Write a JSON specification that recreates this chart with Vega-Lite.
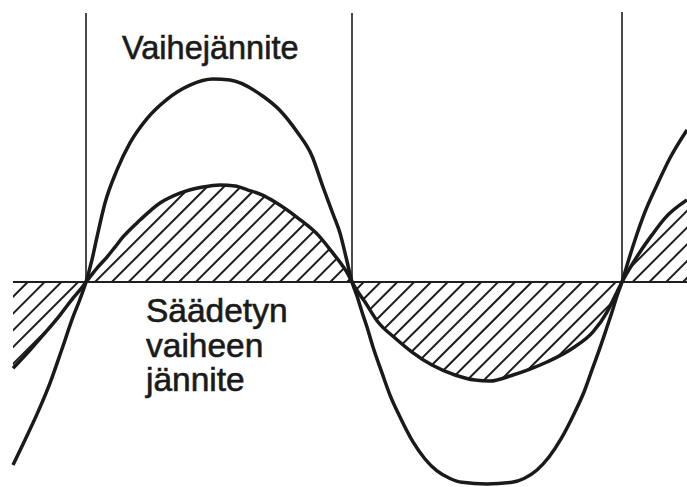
{
  "$schema": "https://vega.github.io/schema/vega-lite/v6.json",
  "width": 687,
  "height": 487,
  "autosize": {"type": "fit", "contains": "padding"},
  "padding": 0,
  "background": "white",
  "config": {"view": {"stroke": null}},
  "datasets": {
    "curves": [
      {"s": "big", "x": -49.03, "v": -0.901}, {"s": "big", "x": -40.97, "v": -0.778}, {"s": "big", "x": -32.24, "v": -0.64}, {"s": "big", "x": -24.18, "v": -0.498}, {"s": "big", "x": -16.12, "v": -0.33}, {"s": "big", "x": -8.73, "v": -0.172}, {"s": "big", "x": -4.03, "v": -0.085}, {"s": "big", "x": 0, "v": 0},
      {"s": "big", "x": 4.03, "v": 0.11}, {"s": "big", "x": 7.39, "v": 0.222}, {"s": "big", "x": 12.76, "v": 0.389}, {"s": "big", "x": 20.82, "v": 0.552}, {"s": "big", "x": 29.55, "v": 0.685}, {"s": "big", "x": 40.97, "v": 0.805}, {"s": "big", "x": 54.4, "v": 0.9}, {"s": "big", "x": 69.85, "v": 0.97}, {"s": "big", "x": 85.3, "v": 1.0}, {"s": "big", "x": 96.72, "v": 0.995}, {"s": "big", "x": 118.88, "v": 0.915}, {"s": "big", "x": 130.3, "v": 0.845}, {"s": "big", "x": 141.72, "v": 0.74}, {"s": "big", "x": 151.79, "v": 0.621}, {"s": "big", "x": 159.18, "v": 0.468}, {"s": "big", "x": 165.9, "v": 0.335}, {"s": "big", "x": 170.6, "v": 0.241}, {"s": "big", "x": 174.63, "v": 0.123}, {"s": "big", "x": 178.66, "v": 0},
      {"s": "big", "x": 182.01, "v": -0.069}, {"s": "big", "x": 185.37, "v": -0.148}, {"s": "big", "x": 188.73, "v": -0.222}, {"s": "big", "x": 192.76, "v": -0.32}, {"s": "big", "x": 198.81, "v": -0.448}, {"s": "big", "x": 204.18, "v": -0.557}, {"s": "big", "x": 210.9, "v": -0.665}, {"s": "big", "x": 219.63, "v": -0.788}, {"s": "big", "x": 227.69, "v": -0.872}, {"s": "big", "x": 235.75, "v": -0.931}, {"s": "big", "x": 244.48, "v": -0.968}, {"s": "big", "x": 252.54, "v": -0.987}, {"s": "big", "x": 269.33, "v": -0.995}, {"s": "big", "x": 286.12, "v": -0.987}, {"s": "big", "x": 294.18, "v": -0.968}, {"s": "big", "x": 302.91, "v": -0.926}, {"s": "big", "x": 310.97, "v": -0.862}, {"s": "big", "x": 319.03, "v": -0.773}, {"s": "big", "x": 327.76, "v": -0.65}, {"s": "big", "x": 334.48, "v": -0.542}, {"s": "big", "x": 339.85, "v": -0.433}, {"s": "big", "x": 345.9, "v": -0.31}, {"s": "big", "x": 349.93, "v": -0.222}, {"s": "big", "x": 353.29, "v": -0.148}, {"s": "big", "x": 356.65, "v": -0.069}, {"s": "big", "x": 360, "v": 0},
      {"s": "big", "x": 364.03, "v": 0.0985}, {"s": "big", "x": 368.73, "v": 0.207}, {"s": "big", "x": 375.45, "v": 0.345}, {"s": "big", "x": 383.51, "v": 0.478}, {"s": "big", "x": 392.24, "v": 0.611}, {"s": "big", "x": 403.66, "v": 0.749},
      {"s": "small", "x": -49.03, "v": -0.425}, {"s": "small", "x": -37.61, "v": -0.335}, {"s": "small", "x": -27.54, "v": -0.251}, {"s": "small", "x": -17.46, "v": -0.163}, {"s": "small", "x": -8.73, "v": -0.079}, {"s": "small", "x": -4.03, "v": -0.039}, {"s": "small", "x": 0, "v": 0},
      {"s": "small", "x": 2.69, "v": 0.025}, {"s": "small", "x": 8.06, "v": 0.074}, {"s": "small", "x": 14.1, "v": 0.123}, {"s": "small", "x": 19.48, "v": 0.172}, {"s": "small", "x": 24.85, "v": 0.222}, {"s": "small", "x": 36.27, "v": 0.305}, {"s": "small", "x": 49.7, "v": 0.389}, {"s": "small", "x": 63.13, "v": 0.438}, {"s": "small", "x": 78.58, "v": 0.468}, {"s": "small", "x": 90.0, "v": 0.478}, {"s": "small", "x": 100.07, "v": 0.473}, {"s": "small", "x": 108.81, "v": 0.453}, {"s": "small", "x": 118.21, "v": 0.429}, {"s": "small", "x": 126.94, "v": 0.394}, {"s": "small", "x": 142.39, "v": 0.315}, {"s": "small", "x": 155.82, "v": 0.232}, {"s": "small", "x": 165.22, "v": 0.148}, {"s": "small", "x": 171.94, "v": 0.084}, {"s": "small", "x": 175.97, "v": 0.039}, {"s": "small", "x": 178.66, "v": 0},
      {"s": "small", "x": 182.69, "v": -0.049}, {"s": "small", "x": 187.39, "v": -0.099}, {"s": "small", "x": 196.12, "v": -0.197}, {"s": "small", "x": 207.54, "v": -0.276}, {"s": "small", "x": 218.96, "v": -0.345}, {"s": "small", "x": 232.39, "v": -0.409}, {"s": "small", "x": 247.84, "v": -0.458}, {"s": "small", "x": 261.27, "v": -0.483}, {"s": "small", "x": 271.34, "v": -0.488}, {"s": "small", "x": 286.79, "v": -0.458}, {"s": "small", "x": 298.21, "v": -0.429}, {"s": "small", "x": 309.63, "v": -0.394}, {"s": "small", "x": 327.09, "v": -0.325}, {"s": "small", "x": 340.52, "v": -0.246}, {"s": "small", "x": 349.93, "v": -0.148}, {"s": "small", "x": 356.65, "v": -0.049}, {"s": "small", "x": 360, "v": 0},
      {"s": "small", "x": 365.37, "v": 0.069}, {"s": "small", "x": 372.09, "v": 0.148}, {"s": "small", "x": 380.15, "v": 0.232}, {"s": "small", "x": 388.88, "v": 0.315}, {"s": "small", "x": 403.66, "v": 0.404}
    ],
    "hatch": [
      {"xb": -110.02, "xt": 31.84}, {"xb": -98.74, "xt": 43.12}, {"xb": -87.45, "xt": 54.41}, {"xb": -76.17, "xt": 65.69},
      {"xb": -64.89, "xt": 76.98}, {"xb": -53.6, "xt": 88.26}, {"xb": -42.32, "xt": 99.54}, {"xb": -31.03, "xt": 110.83},
      {"xb": -19.75, "xt": 122.11}, {"xb": -8.47, "xt": 133.39}, {"xb": 2.82, "xt": 144.68}, {"xb": 14.1, "xt": 155.96},
      {"xb": 25.38, "xt": 167.24}, {"xb": 36.67, "xt": 178.53}, {"xb": 47.95, "xt": 189.81}, {"xb": 59.23, "xt": 201.09},
      {"xb": 70.52, "xt": 212.38}, {"xb": 81.8, "xt": 223.66}, {"xb": 93.09, "xt": 234.95}, {"xb": 104.37, "xt": 246.23},
      {"xb": 115.65, "xt": 257.51}, {"xb": 126.94, "xt": 268.8}, {"xb": 138.22, "xt": 280.08}, {"xb": 149.5, "xt": 291.36},
      {"xb": 160.79, "xt": 302.65}, {"xb": 172.07, "xt": 313.93}, {"xb": 183.35, "xt": 325.21}, {"xb": 194.64, "xt": 336.5},
      {"xb": 205.92, "xt": 347.78}, {"xb": 217.21, "xt": 359.07}, {"xb": 228.49, "xt": 370.35}, {"xb": 239.77, "xt": 381.63},
      {"xb": 251.06, "xt": 392.92}, {"xb": 262.34, "xt": 404.2}, {"xb": 273.62, "xt": 415.48}, {"xb": 284.91, "xt": 426.77},
      {"xb": 296.19, "xt": 438.05}, {"xb": 307.47, "xt": 449.33}, {"xb": 318.76, "xt": 460.62}, {"xb": 330.04, "xt": 471.9}
    ],
    "masks": [
      {"x": -57.76, "x2": -49.03, "v": -0.53, "v2": 0.53},
      {"x": -49.03, "x2": 0, "v": 0, "v2": 0.53},
      {"x": 0, "x2": 178.66, "v": -0.53, "v2": 0},
      {"x": 178.66, "x2": 360, "v": 0, "v2": 0.53},
      {"x": 360, "x2": 403.66, "v": -0.53, "v2": 0}
    ],
    "axisline": [{"x": -49.03, "x2": 403.66, "v": 0, "v2": 0}],
    "verticals": [
      {"x": 0, "x2": 0, "v": 0, "v2": 1.325},
      {"x": 178.66, "x2": 178.66, "v": 0, "v2": 1.325},
      {"x": 360, "x2": 360, "v": 0, "v2": 1.33}
    ],
    "toplabel": [
      {"x": 24.2, "v": 1.0985, "text": "Vaihejännite"}
    ],
    "labels": [
      {"x": 40.3, "v": -0.197, "text": "Säädetyn"},
      {"x": 40.3, "v": -0.369, "text": "vaiheen"},
      {"x": 40.3, "v": -0.539, "text": "jännite"}
    ]
  },
  "layer": [
    {
      "data": {"name": "hatch"},
      "mark": {"type": "rule", "color": "#1e1e1e", "strokeWidth": 2, "clip": true},
      "encoding": {
        "x": {"field": "xb", "type": "quantitative", "scale": {"domain": [-57.76, 403.66], "nice": false, "zero": false}, "axis": null},
        "x2": {"field": "xt"},
        "y": {"datum": -0.52, "type": "quantitative", "scale": {"domain": [-1.0099, 1.3892], "nice": false, "zero": false}, "axis": null},
        "y2": {"datum": 0.52}
      }
    },
    {
      "data": {"name": "masks"},
      "mark": {"type": "rect", "color": "white", "clip": true},
      "encoding": {
        "x": {"field": "x", "type": "quantitative", "scale": {"domain": [-57.76, 403.66], "nice": false, "zero": false}, "axis": null},
        "x2": {"field": "x2"},
        "y": {"field": "v", "type": "quantitative", "scale": {"domain": [-1.0099, 1.3892], "nice": false, "zero": false}, "axis": null},
        "y2": {"field": "v2"}
      }
    },
    {
      "data": {"name": "curves"},
      "transform": [
        {"filter": {"field": "s", "equal": "small"}},
        {"filter": {"or": [{"field": "x", "range": [0, 178.66]}, {"field": "x", "range": [360, 403.66]}]}}
      ],
      "mark": {"type": "area", "color": "white", "interpolate": "monotone", "clip": true},
      "encoding": {
        "x": {"field": "x", "type": "quantitative", "scale": {"domain": [-57.76, 403.66], "nice": false, "zero": false}, "axis": null},
        "y": {"field": "v", "type": "quantitative", "scale": {"domain": [-1.0099, 1.3892], "nice": false, "zero": false}, "axis": null},
        "y2": {"datum": 0.53}
      }
    },
    {
      "data": {"name": "curves"},
      "transform": [
        {"filter": {"field": "s", "equal": "small"}},
        {"filter": {"or": [{"field": "x", "range": [-49.03, 0]}, {"field": "x", "range": [178.66, 360]}]}}
      ],
      "mark": {"type": "area", "color": "white", "interpolate": "monotone", "clip": true},
      "encoding": {
        "x": {"field": "x", "type": "quantitative", "scale": {"domain": [-57.76, 403.66], "nice": false, "zero": false}, "axis": null},
        "y": {"field": "v", "type": "quantitative", "scale": {"domain": [-1.0099, 1.3892], "nice": false, "zero": false}, "axis": null},
        "y2": {"datum": -0.53}
      }
    },
    {
      "data": {"name": "axisline"},
      "mark": {"type": "rule", "color": "#1e1e1e", "strokeWidth": 2.2, "clip": true},
      "encoding": {
        "x": {"field": "x", "type": "quantitative", "scale": {"domain": [-57.76, 403.66], "nice": false, "zero": false}, "axis": null},
        "x2": {"field": "x2"},
        "y": {"field": "v", "type": "quantitative", "scale": {"domain": [-1.0099, 1.3892], "nice": false, "zero": false}, "axis": null},
        "y2": {"field": "v2"}
      }
    },
    {
      "data": {"name": "verticals"},
      "mark": {"type": "rule", "color": "#1e1e1e", "strokeWidth": 1.6, "clip": true},
      "encoding": {
        "x": {"field": "x", "type": "quantitative", "scale": {"domain": [-57.76, 403.66], "nice": false, "zero": false}, "axis": null},
        "x2": {"field": "x2"},
        "y": {"field": "v", "type": "quantitative", "scale": {"domain": [-1.0099, 1.3892], "nice": false, "zero": false}, "axis": null},
        "y2": {"field": "v2"}
      }
    },
    {
      "data": {"name": "curves"},
      "mark": {"type": "line", "color": "#1a1a1a", "strokeWidth": 3.5, "interpolate": "monotone", "clip": true},
      "encoding": {
        "x": {"field": "x", "type": "quantitative", "scale": {"domain": [-57.76, 403.66], "nice": false, "zero": false}, "axis": null},
        "y": {"field": "v", "type": "quantitative", "scale": {"domain": [-1.0099, 1.3892], "nice": false, "zero": false}, "axis": null},
        "detail": {"field": "s", "type": "nominal"}
      }
    },
    {
      "data": {"name": "toplabel"},
      "mark": {"type": "text", "align": "left", "baseline": "alphabetic", "font": "Liberation Sans", "fontSize": 32.5, "color": "#1a1a1a", "stroke": "#1a1a1a", "strokeWidth": 0.6},
      "encoding": {
        "x": {"field": "x", "type": "quantitative", "scale": {"domain": [-57.76, 403.66], "nice": false, "zero": false}, "axis": null},
        "y": {"field": "v", "type": "quantitative", "scale": {"domain": [-1.0099, 1.3892], "nice": false, "zero": false}, "axis": null},
        "text": {"field": "text", "type": "nominal"}
      }
    },
    {
      "data": {"name": "labels"},
      "mark": {"type": "text", "align": "left", "baseline": "alphabetic", "font": "Liberation Sans", "fontSize": 33.5, "color": "#1a1a1a", "stroke": "#1a1a1a", "strokeWidth": 0.6},
      "encoding": {
        "x": {"field": "x", "type": "quantitative", "scale": {"domain": [-57.76, 403.66], "nice": false, "zero": false}, "axis": null},
        "y": {"field": "v", "type": "quantitative", "scale": {"domain": [-1.0099, 1.3892], "nice": false, "zero": false}, "axis": null},
        "text": {"field": "text", "type": "nominal"}
      }
    }
  ]
}
